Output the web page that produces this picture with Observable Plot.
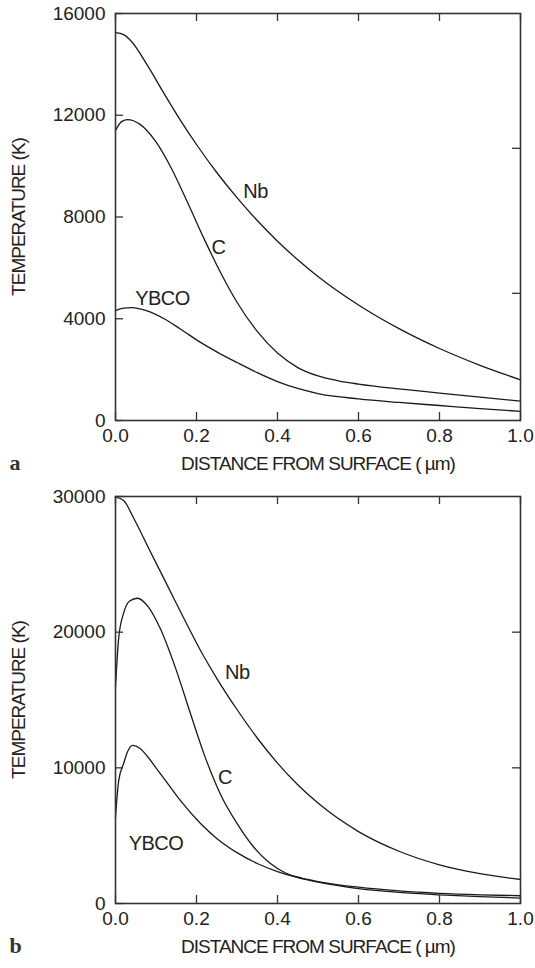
<!DOCTYPE html>
<html><head><meta charset="utf-8">
<script src="https://cdn.jsdelivr.net/npm/d3@7"></script>
<script src="https://cdn.jsdelivr.net/npm/@observablehq/plot@0.6"></script>
<style>
body{margin:0;background:#fff;}
#wrap{width:535px;}
#wrap svg{display:block;}
</style></head><body><div id="wrap"></div>
<script>
// ---------- shared axis values ----------
const xTicks = [0, 0.2, 0.4, 0.6, 0.8, 1.0];
const xTitle = "DISTANCE FROM SURFACE ( µm)";
const yTitle = "TEMPERATURE (K)";

// ---------- panel a ----------
const yTicksA = [0, 4000, 8000, 12000, 16000];
const yRightTicksA = [5000, 10700];
const nbAx = [0, 0.02, 0.04, 0.08, 0.12, 0.16, 0.2, 0.25, 0.3, 0.35, 0.4, 0.45, 0.5, 0.6, 0.7, 0.8, 0.9, 1.0];
const nbAy = [15250, 15170, 14890, 13930, 12850, 11810, 10850, 9750, 8760, 7860, 7050, 6320, 5660, 4540, 3610, 2830, 2170, 1600];
const cAx = [0, 0.015, 0.03, 0.06, 0.1, 0.14, 0.18, 0.22, 0.26, 0.3, 0.35, 0.4, 0.45, 0.5, 0.55, 0.6, 0.7, 0.8, 0.9, 1.0];
const cAy = [11400, 11750, 11830, 11650, 10950, 9850, 8500, 7100, 5800, 4650, 3500, 2650, 2080, 1750, 1560, 1430, 1240, 1080, 920, 760];
const yAx = [0, 0.02, 0.04, 0.08, 0.12, 0.16, 0.21, 0.25, 0.3, 0.35, 0.4, 0.45, 0.5, 0.6, 0.7, 0.8, 0.9, 1.0];
const yAy = [4320, 4420, 4440, 4300, 4000, 3600, 3070, 2700, 2280, 1880, 1530, 1260, 1060, 850, 710, 590, 470, 360];
const labelNamesA = ["Nb", "C", "YBCO"];
const labelXA = [0.346, 0.254, 0.116];
const labelYA = [9000, 6800, 4800];

// ---------- panel b ----------
const yTicksB = [0, 10000, 20000, 30000];
const yRightTicksB = [10000, 20000];
const nbBx = [0, 0.02, 0.045, 0.08, 0.128, 0.17, 0.21, 0.25, 0.3, 0.35, 0.4, 0.45, 0.5, 0.6, 0.7, 0.8, 0.9, 1.0];
const nbBy = [29950, 29700, 28400, 26300, 23450, 20950, 18650, 16600, 14300, 12200, 10350, 8750, 7400, 5300, 3850, 2850, 2200, 1770];
const cBx = [0, 0.008, 0.02, 0.035, 0.054, 0.08, 0.11, 0.15, 0.185, 0.22, 0.26, 0.3, 0.34, 0.38, 0.42, 0.46, 0.5, 0.6, 0.7, 0.8, 0.9, 1.0];
const cBy = [16000, 19600, 21400, 22300, 22500, 21900, 20300, 17200, 14000, 10900, 8000, 5900, 4200, 3000, 2250, 1870, 1620, 1200, 930, 750, 640, 570];
const yBx = [0, 0.008, 0.02, 0.03, 0.042, 0.06, 0.08, 0.1, 0.13, 0.16, 0.21, 0.25, 0.3, 0.35, 0.4, 0.45, 0.5, 0.6, 0.7, 0.8, 0.9, 1.0];
const yBy = [6400, 9070, 10320, 11200, 11650, 11450, 10800, 10000, 8800, 7600, 5900, 4800, 3750, 2950, 2350, 1900, 1570, 1100, 820, 640, 500, 400];
const labelNamesB = ["Nb", "C", "YBCO"];
const labelXB = [0.301, 0.27, 0.1];
const labelYB = [17000, 9300, 4400];

const W = 535, ML = 115, MR = 15;

function panel({series, yMax, yTicks, rightTicks, labelNames, labelX, labelY, letter, height, marginTop, marginBottom}) {
  const frameH = height - marginTop - marginBottom;
  const frameW = W - ML - MR;
  const rows = series.flatMap(s => s.x.map((x, i) => ({name: s.name, x, y: s.y[i]})));
  const labels = labelNames.map((t, i) => ({text: t, x: labelX[i], y: labelY[i]}));
  const svg = Plot.plot({
    width: W, height, marginLeft: ML, marginRight: MR, marginTop, marginBottom,
    style: {fontFamily: "'Liberation Sans', Arial, Helvetica, sans-serif", background: "#fff", color: "#222"},
    x: {domain: [0, 1]},
    y: {domain: [0, yMax]},
    marks: [
      Plot.line(rows, {x: "x", y: "y", z: "name", stroke: "#1a1a1a", strokeWidth: 1.3, curve: "monotone-x"}),
      Plot.frame({stroke: "#333", strokeWidth: 1.6}),
      Plot.tickX(xTicks, {x: d => d, insetTop: frameH - 8, stroke: "#333", strokeWidth: 1.3}),
      Plot.tickX(xTicks, {x: d => d, insetBottom: frameH - 8, stroke: "#333", strokeWidth: 1.3}),
      Plot.tickY(yTicks, {y: d => d, insetRight: frameW - 8, stroke: "#333", strokeWidth: 1.3}),
      Plot.tickY(rightTicks, {y: d => d, insetLeft: frameW - 8, stroke: "#333", strokeWidth: 1.3}),
      Plot.axisX(xTicks, {tickSize: 0, tickPadding: 8, tickFormat: d => d.toFixed(1), fontSize: 19, label: null, fill: "#222"}),
      Plot.axisY(yTicks, {tickSize: 0, tickPadding: 10, tickFormat: d => String(d), fontSize: 19, label: null, fill: "#222"}),
      Plot.text(labels, {x: "x", y: "y", text: "text", fontSize: 20, fill: "#222"}),
      Plot.text([xTitle], {frameAnchor: "bottom", dy: 43, lineAnchor: "middle", textAnchor: "middle", fontSize: 19, fill: "#222"}),
      Plot.text([yTitle], {frameAnchor: "left", dx: -97, rotate: -90, textAnchor: "middle", lineAnchor: "middle", fontSize: 19, fill: "#222"}),
      Plot.text([letter], {frameAnchor: "bottom-left", dx: -106, dy: 42, textAnchor: "start", lineAnchor: "middle", fontSize: 22, fontWeight: "bold", fontFamily: "'Liberation Serif', 'DejaVu Serif', serif", fill: "#333"})
    ]
  });
  d3.select(svg).selectAll("text")
    .filter(function() { return this.textContent === xTitle || this.textContent === yTitle; })
    .attr("letter-spacing", "-1");
  d3.select(svg).selectAll("text")
    .filter(function() { return labelNames.includes(this.textContent); })
    .attr("letter-spacing", "-0.5");
  return svg;
}

const wrap = document.getElementById("wrap");
wrap.appendChild(panel({
  series: [{name: "Nb", x: nbAx, y: nbAy}, {name: "C", x: cAx, y: cAy}, {name: "YBCO", x: yAx, y: yAy}],
  yMax: 16000, yTicks: yTicksA, rightTicks: yRightTicksA,
  labelNames: labelNamesA, labelX: labelXA, labelY: labelYA,
  letter: "a", height: 480, marginTop: 13, marginBottom: 60
}));
wrap.appendChild(panel({
  series: [{name: "Nb", x: nbBx, y: nbBy}, {name: "C", x: cBx, y: cBy}, {name: "YBCO", x: yBx, y: yBy}],
  yMax: 30000, yTicks: yTicksB, rightTicks: yRightTicksB,
  labelNames: labelNamesB, labelX: labelXB, labelY: labelYB,
  letter: "b", height: 488, marginTop: 16, marginBottom: 65
}));
</script></body></html>
